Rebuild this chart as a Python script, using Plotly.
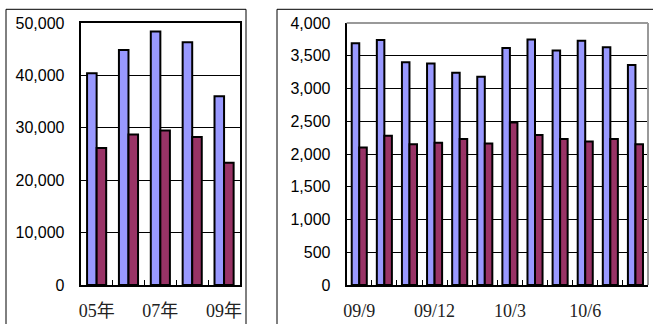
import plotly.graph_objects as go

# Annual totals (left panel)
years = ["05年", "06年", "07年", "08年", "09年"]
year_labels = ["05年", "", "07年", "", "09年"]
annual_a = [40400, 44850, 48400, 46350, 36000]
annual_b = [26150, 28700, 29500, 28250, 23350]

# Monthly totals (right panel)
months = ["09/9", "09/10", "09/11", "09/12", "10/1", "10/2",
          "10/3", "10/4", "10/5", "10/6", "10/7", "10/8"]
month_labels = ["09/9", "", "", "09/12", "", "", "10/3", "", "", "10/6", "", ""]
monthly_a = [3690, 3740, 3400, 3380, 3240, 3180, 3620, 3750, 3580, 3730, 3630, 3360]
monthly_b = [2100, 2280, 2150, 2170, 2230, 2160, 2480, 2290, 2230, 2190, 2230, 2150]

BLUE = "#9999FF"
RED = "#993366"
W, H = 653, 324

def px(x):
    return x / W

def py(y):
    return 1 - y / H

fig = go.Figure()
bar_line = dict(color="black", width=2)
fig.add_trace(go.Bar(x=years, y=annual_a, marker=dict(color=BLUE, line=bar_line),
                     xaxis="x", yaxis="y", showlegend=False))
fig.add_trace(go.Bar(x=years, y=annual_b, marker=dict(color=RED, line=bar_line),
                     xaxis="x", yaxis="y", showlegend=False))
fig.add_trace(go.Bar(x=months, y=monthly_a, marker=dict(color=BLUE, line=bar_line),
                     xaxis="x2", yaxis="y2", showlegend=False))
fig.add_trace(go.Bar(x=months, y=monthly_b, marker=dict(color=RED, line=bar_line),
                     xaxis="x2", yaxis="y2", showlegend=False))

ydom = [py(285), py(23)]
xfont = dict(family="'Liberation Serif', 'Noto Sans CJK JP'", size=18, color="#222222")
yfont = dict(family="'Liberation Sans', Arial", size=16, color="black")

common_x = dict(type="category", showline=True, linecolor="black", linewidth=2,
                ticks="inside", ticklen=5, tickcolor="black", tickwidth=1,
                tickson="boundaries", showgrid=False, tickfont=xfont,
                ticklabelstandoff=8, tickmode="array", tickangle=0,
                automargin=False)
common_y = dict(showline=True, linecolor="black", linewidth=2, ticks="",
                showgrid=True, gridcolor="black", gridwidth=1, zeroline=False,
                tickfont=yfont, tickformat=",d", ticklabelstandoff=11,
                automargin=False)

fig.update_layout(
    width=W, height=H, margin=dict(l=0, r=0, t=0, b=0, autoexpand=False),
    paper_bgcolor="white", plot_bgcolor="white",
    barmode="group", bargap=0.4, bargroupgap=0,
    xaxis=dict(domain=[px(80.7), px(240)], anchor="y", mirror=True,
               tickvals=years, ticktext=year_labels, **common_x),
    yaxis=dict(domain=ydom, anchor="x", range=[0, 50000], dtick=10000,
               mirror=True, **common_y),
    xaxis2=dict(domain=[px(346.7), px(648)], anchor="y2",
                tickvals=months, ticktext=month_labels, **common_x),
    yaxis2=dict(domain=ydom, anchor="x2", range=[0, 4000], dtick=500, **common_y),
)

# Right panel frame (top and right edges in gray)
fig.add_shape(type="line", xref="x2 domain", yref="y2 domain",
              x0=0, x1=1, y0=1, y1=1, line=dict(color="#999999", width=2))
fig.add_shape(type="line", xref="x2 domain", yref="y2 domain",
              x0=1, x1=1, y0=0, y1=1, line=dict(color="#999999", width=2))

# Outer chart borders
top = py(9.3)
fig.add_shape(type="rect", xref="paper", yref="paper",
              x0=px(6), x1=px(246), y0=-0.2, y1=top,
              line=dict(color="black", width=1), layer="below")
fig.add_shape(type="rect", xref="paper", yref="paper",
              x0=px(277), x1=1.2, y0=-0.2, y1=top,
              line=dict(color="black", width=1), layer="below")

fig.write_html("out.html")
